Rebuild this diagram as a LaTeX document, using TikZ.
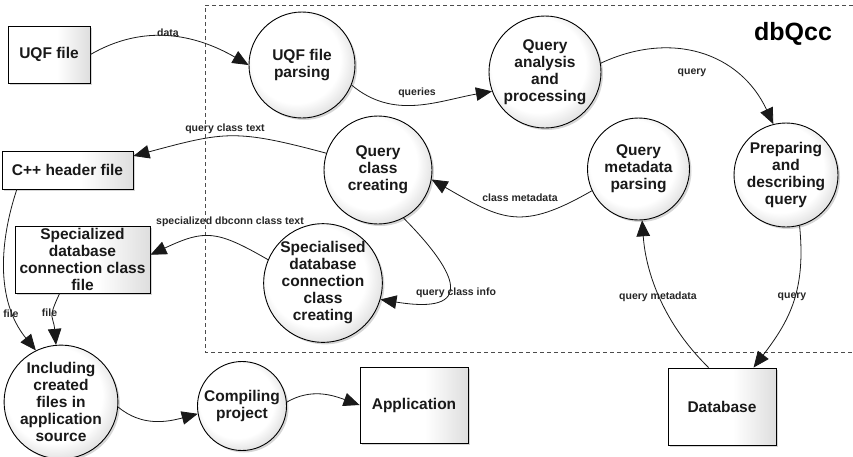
\documentclass[tikz,border=0pt]{standalone}
\usepackage{fontspec}
\setmainfont{Liberation Sans}
\usetikzlibrary{arrows.meta,shadows}

% soft fills for process circles and external entities
\pgfdeclarehorizontalshading{boxshade}{100bp}{color(0bp)=(white); color(25bp)=(white); color(55bp)=(white); color(75bp)=(black!13); color(100bp)=(black!13)}
\pgfdeclareradialshading{ballshade}{\pgfpoint{-5bp}{5bp}}{color(0bp)=(white); color(21bp)=(white); color(30bp)=(black!15); color(50bp)=(black!18)}

\newcommand\procfont{\fontsize{15.5}{17}\selectfont\bfseries}
\newcommand\lblfont{\fontsize{10.5}{12}\selectfont\bfseries}

\tikzset{
  softshadow/.style={drop shadow={shadow xshift=2pt,shadow yshift=-2pt,fill=black!40,opacity=0.4}},
  proc/.style={circle, draw=black, line width=0.9pt, shade, shading=ballshade, softshadow,
               align=center, font=\procfont, text=black!90, inner sep=0pt},
  entity/.style={rectangle, draw=black, line width=0.9pt, shade, shading=boxshade, softshadow,
               align=center, font=\procfont, text=black!90, inner sep=0pt},
  flow/.style={draw=black!90, line width=0.8pt, -{Triangle[length=16pt,width=13.5pt]}},
  lbl/.style={font=\lblfont, text=black!85, inner sep=0pt},
  frame/.style={draw=black!70, line width=0.8pt, dash pattern=on 4pt off 3pt},
}

\begin{document}
\begin{tikzpicture}[x=1pt,y=1pt]
\useasboundingbox (0,0) rectangle (853,-456);

% system boundary
\draw[frame] (853,-5) -- (205,-5) -- (205,-352) -- (853,-352);

\node (title) at (793,-34) {\fontsize{25}{30}\selectfont\bfseries dbQcc};

% external entities
\node[entity, minimum width=82pt, minimum height=57pt] (uqf) at (49,-54.5) {UQF file};
\node[entity, minimum width=131pt, minimum height=38pt] (cpp) at (67.5,-170) {C++ header file};
\node[entity, minimum width=135pt, minimum height=67pt] (specfile) at (82.5,-259.5) {Specialized\\database\\connection class\\file};
\node[entity, minimum width=108pt, minimum height=76pt] (app) at (414,-405) {Application};
\node[entity, minimum width=108pt, minimum height=77pt] (db) at (722,-406.5) {Database};

% processes
\node[proc, minimum size=106pt] (parse) at (302,-65) {UQF file\\parsing};
\node[proc, minimum size=112pt] (analysis) at (545,-72) {Query\\analysis\\and\\processing};
\node[proc, minimum size=104pt] (prep) at (786,-175) {Preparing\\and\\describing\\query};
\node[proc, minimum size=102pt] (meta) at (638.5,-169) {Query\\metadata\\parsing};
\node[proc, minimum size=108pt] (qcc) at (378,-170) {Query\\class\\creating};
\node[proc, minimum size=118pt] (spec) at (323,-283) {Specialised\\database\\connection\\class\\creating};
\node[proc, minimum size=104pt] (incl) at (61,-402) {Including\\created\\files in\\application\\source};
\node[proc, minimum size=89pt] (comp) at (242,-406) {Compiling\\project};

% data flows
\draw[flow] (uqf.east) to[out=30, in=150] (parse.west);
\draw[flow] (parse.-22) to[out=-40, in=190] (analysis.200);
\draw[flow] (analysis.9) to[out=25, in=115, looseness=1.1] (prep.104);
\draw[flow] (prep.-75) .. controls (806,-290) and (790,-320) .. (db.51);
\draw[flow] (db.109) .. controls (665,-325) and (646,-275) .. (meta.-86);
\draw[flow] (meta.205) to[out=210, in=-30, looseness=1.3] (qcc.-10);
\draw[flow] (qcc.162) to[out=165, in=15, looseness=1.25] (cpp.12);
\draw[flow] (qcc.-62) .. controls (460,-275) and (475,-315) .. (spec.-16);
\draw[flow] (spec.157) to[out=150, in=25, looseness=1.3] (specfile.4);
\draw[flow] (cpp.-159) .. controls (0,-240) and (-5,-300) .. (incl.116);
\draw[flow] (specfile.236) to[out=-115, in=95, looseness=1.5] (incl.95);
\draw[flow] (incl.-5) to[out=-40, in=195] (comp.190);
\draw[flow] (comp.5) to[out=30, in=160] (app.west);

% flow labels
\node[lbl] (lData) at (168,-33) {data};
\node[lbl] (lQueries) at (417,-93) {queries};
\node[lbl] (lQuery1) at (692,-73) {query};
\node[lbl] (lClassMeta) at (520,-198) {class metadata};
\node[lbl] (lClassText) at (225,-129) {query class text};
\node[lbl] (lDbconnText) at (230,-222) {specialized dbconn class text};
\node[lbl] (lClassInfo) at (456,-293) {query class info};
\node[lbl] (lQueryMeta) at (658,-297) {query metadata};
\node[lbl] (lQuery2) at (792,-297) {query};
\node[lbl] (lFile1) at (11,-314) {file};
\node[lbl] (lFile2) at (49.5,-313) {file};
\end{tikzpicture}
\end{document}
